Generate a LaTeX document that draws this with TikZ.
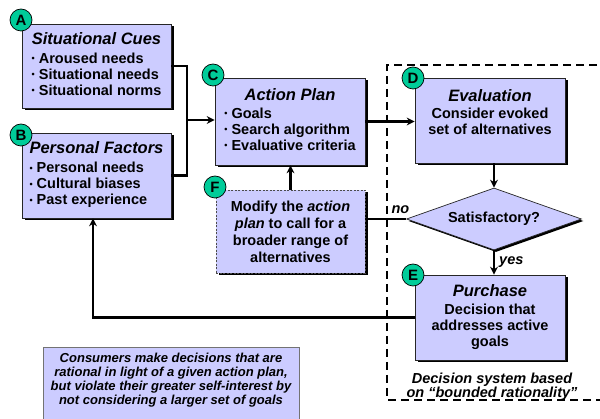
\documentclass[tikz,border=0pt]{standalone}
\usepackage{fontspec}
\setmainfont{Liberation Sans}
\usetikzlibrary{arrows.meta,shapes.geometric,shadows}
\definecolor{boxfill}{RGB}{204,204,255}
\definecolor{tagfill}{RGB}{0,204,153}
\newcommand{\itm}{\raisebox{0.2ex}{\small\textbullet}~}
\newcommand{\ttl}[1]{\multicolumn{1}{@{}c@{}}{\fontsize{16.5}{18}\selectfont\itshape #1}}

\begin{document}
\begin{tikzpicture}[x=1pt,y=-1pt,
		card/.style={draw=black!85,fill=boxfill,line width=0.7pt,inner sep=0pt,
			minimum width=149pt,minimum height=85pt,
			general shadow={fill=black,shadow xshift=2.5pt,shadow yshift=-2.5pt},
			font=\fontsize{14.5}{16}\selectfont\bfseries},
		tag/.style={circle,draw=black,line width=0.7pt,fill=tagfill,minimum size=22pt,
			inner sep=0pt,font=\fontsize{15}{15}\selectfont\bfseries},
		link/.style={line width=2.4pt},
		flow/.style={link,-{Stealth[length=8pt,width=8pt]}},
		remark/.style={font=\fontsize{14.5}{14.5}\selectfont\bfseries\itshape,align=center,inner sep=1pt}]
	\clip (0,0) rectangle (600,419);

	\draw[line width=2pt,dash pattern=on 8pt off 5pt] (610,65) -- (387,65) -- (387,400) -- (610,400);

	\node[card,minimum height=84pt] (cues) at (96.5,66) {\begin{tabular}{@{}l@{}}\ttl{Situational Cues}\\[3pt]
		\itm Aroused needs\\ \itm Situational needs\\ \itm Situational norms\end{tabular}};
	\node[card] (factors) at (96.5,175.5) {\begin{tabular}{@{}l@{}}\ttl{Personal Factors}\\[3pt]
		\itm Personal needs\\ \itm Cultural biases\\ \itm Past experience\end{tabular}};
	\node[card,minimum width=150pt,minimum height=87pt] (plan) at (290,121.5) {\begin{tabular}{@{}l@{}}\ttl{Action Plan}\\[2pt]
		\itm Goals\\ \itm Search algorithm\\ \itm Evaluative criteria\end{tabular}};
	\node[card,draw=black!70,line width=0.6pt,dash pattern=on 2pt off 1.5pt,general shadow={opacity=0},
		font=\fontsize{14.5}{17}\selectfont\bfseries,align=center,minimum height=83pt] (modify) at (290.5,231.5)
		{Modify the \textit{action}\\\textit{plan} to call for a\\broader range of\\alternatives};
	\node[card,minimum width=150pt] (eval) at (490,120.5) {\begin{tabular}{@{}c@{}}\ttl{Evaluation}\\[1pt]
		Consider evoked\\ set of alternatives\\[13pt]\end{tabular}};
	\node[diamond,draw=black!85,fill=boxfill,line width=0.7pt,inner sep=0pt,aspect=2.8,
		minimum width=175pt,minimum height=62pt,
		general shadow={fill=black,shadow xshift=2pt,shadow yshift=-2pt},
		font=\fontsize{14.5}{16}\selectfont\bfseries] (check) at (494,219) {Satisfactory?};
	\node[card,minimum width=150pt] (buy) at (490,317.5) {\begin{tabular}{@{}c@{}}\ttl{Purchase}\\[2pt]
		Decision that\\ addresses active\\ goals\end{tabular}};

	\node[tag] (tagA) at (21,20) {A};
	\node[tag] (tagB) at (21,135) {B};
	\node[tag] (tagC) at (213,75) {C};
	\node[tag] (tagD) at (413,78) {D};
	\node[tag] (tagE) at (413,275) {E};
	\node[tag] (tagF) at (215,187) {F};

	\coordinate (join) at (187,120);
	\coordinate (back) at (93,317);
	\draw[link] (cues.east) -| (join) |- (factors.east);
	\draw[flow] (join) -- (join -| plan.west);
	\draw[flow] (plan.east) -- (plan.east -| eval.west);
	\draw[flow] (check.north |- eval.south) -- (check.north);
	\draw[flow] (check.south) -- (check.south |- buy.north)
		node[midway,right,remark,xshift=3pt] {yes};
	\draw[link] (check.west) -- (check.west -| modify.east)
		node[pos=0.14,above,remark,yshift=3pt] {no};
	\draw[flow] (modify.north) -- (modify.north |- plan.south);
	\draw[flow] (buy.west) -| (factors.south -| back);

	\node[remark] (bounded) at (492,387) {Decision system based\\on “bounded rationality”};

	\node[draw=black!55,line width=1pt,fill=boxfill,minimum width=256pt,minimum height=110pt,inner sep=0pt,
		font=\fontsize{13}{14}\selectfont\bfseries\itshape] (moral) at (171,403)
		{\begin{tabular}{@{}c@{}}Consumers make decisions that are\\ rational in light of a given action plan,\\
		but violate their greater self-interest by\\ not considering a larger set of goals\\[45pt]\end{tabular}};
\end{tikzpicture}
\end{document}
